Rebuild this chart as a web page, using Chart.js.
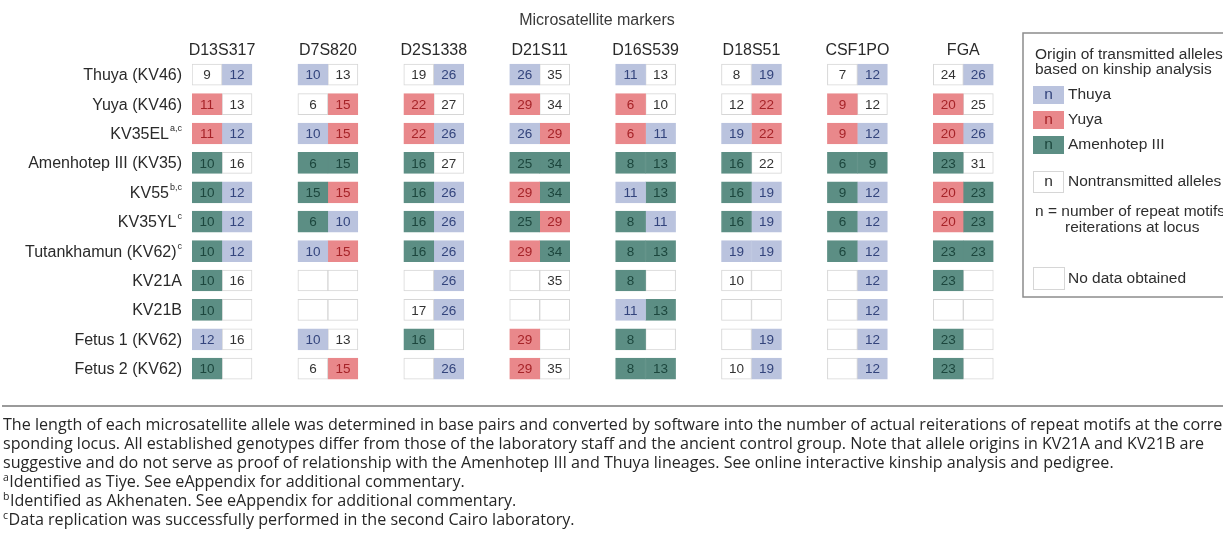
<!DOCTYPE html>
<html><head><meta charset="utf-8">
<script src="https://cdn.jsdelivr.net/npm/chart.js@4.4.1/dist/chart.umd.min.js"></script>
<style>html,body{margin:0;padding:0;background:#fff;overflow:hidden}#wrap{position:relative;width:1223px;height:534px}</style>
</head><body><div id="wrap"><canvas id="c" width="1223" height="534"></canvas></div>
<script>
// ---------- data ----------
const markers = ['D13S317','D7S820','D2S1338','D21S11','D16S539','D18S51','CSF1PO','FGA'];
const rowNames = ['Thuya (KV46)','Yuya (KV46)','KV35EL','Amenhotep III (KV35)','KV55','KV35YL','Tutankhamun (KV62)','KV21A','KV21B','Fetus 1 (KV62)','Fetus 2 (KV62)'];
const rowSups = ['','','a,c','','b,c','c','c','','','',''];
// allele repeat counts, two per marker (null = no data)
const thuyaKV46      = [9,12, 10,13, 19,26, 26,35, 11,13, 8,19, 7,12, 24,26];
const yuyaKV46       = [11,13, 6,15, 22,27, 29,34, 6,10, 12,22, 9,12, 20,25];
const kv35EL         = [11,12, 10,15, 22,26, 26,29, 6,11, 19,22, 9,12, 20,26];
const amenhotepIII   = [10,16, 6,15, 16,27, 25,34, 8,13, 16,22, 6,9, 23,31];
const kv55           = [10,12, 15,15, 16,26, 29,34, 11,13, 16,19, 9,12, 20,23];
const kv35YL         = [10,12, 6,10, 16,26, 25,29, 8,11, 16,19, 6,12, 20,23];
const tutankhamun    = [10,12, 10,15, 16,26, 29,34, 8,13, 19,19, 6,12, 23,23];
const kv21A          = [10,16, null,null, null,26, null,35, 8,null, 10,null, null,12, 23,null];
const kv21B          = [10,null, null,null, 17,26, null,null, 11,13, null,null, null,12, null,null];
const fetus1         = [12,16, 10,13, 16,null, 29,null, 8,null, null,19, null,12, 23,null];
const fetus2         = [10,null, 6,15, null,26, 29,35, 8,13, 10,19, null,12, 23,null];
// allele origin: T = Thuya, Y = Yuya, A = Amenhotep III, N = nontransmitted, - = no data
const thuyaKV46Src    = 'NT TN NT TN TN NT NT NT';
const yuyaKV46Src     = 'YN NY YN YN YN NY YN YN';
const kv35ELSrc       = 'YT TY YT TY YT TY YT YT';
const amenhotepIIISrc = 'AN AA AN AA AA AN AA AN';
const kv55Src         = 'AT AY AT YA TA AT AT YA';
const kv35YLSrc       = 'AT AT AT AY AT AT AT YA';
const tutankhamunSrc  = 'AT TY AT YA AA TT AT AA';
const kv21ASrc        = 'AN -- -T -N A- N- -T A-';
const kv21BSrc        = 'A- -- NT -- TA -- -T --';
const fetus1Src       = 'TN TN A- Y- A- -T -T A-';
const fetus2Src       = 'A- NY -T YN AA NT -T A-';

const rowValues = [thuyaKV46,yuyaKV46,kv35EL,amenhotepIII,kv55,kv35YL,tutankhamun,kv21A,kv21B,fetus1,fetus2];
const rowSources = [thuyaKV46Src,yuyaKV46Src,kv35ELSrc,amenhotepIIISrc,kv55Src,kv35YLSrc,tutankhamunSrc,kv21ASrc,kv21BSrc,fetus1Src,fetus2Src];

const footLines = [
 'The length of each microsatellite allele was determined in base pairs and converted by software into the number of actual reiterations of repeat motifs at the corre-',
 'sponding locus. All established genotypes differ from those of the laboratory staff and the ancient control group. Note that allele origins in KV21A and KV21B are',
 'suggestive and do not serve as proof of relationship with the Amenhotep III and Thuya lineages. See online interactive kinship analysis and pedigree.'
];
const footNotes = [['a','Identified as Tiye. See eAppendix for additional commentary.'],['b','Identified as Akhenaten. See eAppendix for additional commentary.'],['c','Data replication was successfully performed in the second Cairo laboratory.']];

// ---------- styles ----------
const FONT = '"Liberation Sans", Arial, Helvetica, sans-serif';
const FOOTFONT = '"Open Sans", "Noto Sans", sans-serif';
const FILL = {T:'#bac3de', Y:'#e9888b', A:'#5c8e84', N:'#ffffff', '-':'#ffffff'};
const EDGE = {T:'#bac3de', Y:'#e9888b', A:'#5c8e84', N:'#d6d6d6', '-':'#d6d6d6'};
const INK  = {T:'#33447c', Y:'#a62328', A:'#1c463d', N:'#333333', '-':'#333333'};
const PAIR_STEP = 3.53;

const datasets = [];
markers.forEach((mk, m) => {
  for (let a = 0; a < 2; a++) {
    const start = m * PAIR_STEP + a;
    const src = rowSources.map(s => s.split(' ')[m][a]);
    datasets.push({
      label: mk + ' allele ' + (a + 1),
      data: rowNames.map(() => [start, start + 1]),
      alleleValues: rowValues.map(v => v[m * 2 + a]),
      alleleSrc: src,
      backgroundColor: src.map(s => FILL[s]),
      borderColor: src.map(s => EDGE[s]),
      borderWidth: 1, borderSkipped: false, grouped: false, barThickness: 21
    });
  }
});

const cellText = {
  id: 'cellText',
  afterDatasetsDraw(chart) {
    const ctx = chart.ctx;
    ctx.save();
    ctx.font = '13.5px ' + FONT; ctx.textAlign = 'center'; ctx.textBaseline = 'middle';
    chart.data.datasets.forEach((ds, di) => {
      chart.getDatasetMeta(di).data.forEach((el, i) => {
        const v = ds.alleleValues[i];
        if (v == null) return;
        const p = el.getProps(['x', 'y', 'base'], true);
        ctx.fillStyle = INK[ds.alleleSrc[i]];
        ctx.fillText(String(v), (p.x + p.base) / 2, p.y + 1);
      });
    });
    ctx.restore();
  }
};

const rowLabels = {
  id: 'rowLabels',
  afterDraw(chart) {
    const ctx = chart.ctx, ys = chart.scales.y;
    const right = chart.chartArea.left - 10;
    ctx.save(); ctx.textBaseline = 'middle'; ctx.fillStyle = '#2a2a2a';
    rowNames.forEach((name, i) => {
      const y = ys.getPixelForValue(i);
      ctx.font = '9px ' + FONT;
      const sw = rowSups[i] ? ctx.measureText(rowSups[i]).width + 1 : 0;
      if (rowSups[i]) { ctx.textAlign = 'right'; ctx.fillText(rowSups[i], right, y - 5); }
      ctx.font = '16px ' + FONT; ctx.textAlign = 'right';
      ctx.fillText(name, right - sw, y + 1);
    });
    ctx.restore();
  }
};

const legendBox = {
  id: 'legendBox',
  afterDraw(chart) {
    const ctx = chart.ctx;
    ctx.save();
    ctx.strokeStyle = '#8c8c8c'; ctx.lineWidth = 1.5;
    ctx.strokeRect(1023, 33, 260, 264);
    ctx.textBaseline = 'middle'; ctx.fillStyle = '#2e2e2e';
    ctx.font = '15.5px ' + FONT; ctx.textAlign = 'left';
    ctx.fillText('Origin of transmitted alleles', 1035, 55);
    ctx.fillText('based on kinship analysis', 1035, 70);
    const sw = [['T','Thuya',95],['Y','Yuya',120],['A','Amenhotep III',145]];
    sw.forEach(([k, t, y]) => {
      ctx.fillStyle = FILL[k]; ctx.fillRect(1033, y - 9, 31, 18);
      ctx.fillStyle = INK[k]; ctx.textAlign = 'center'; ctx.fillText('n', 1048.5, y);
      ctx.fillStyle = '#2e2e2e'; ctx.textAlign = 'left'; ctx.fillText(t, 1068, y);
    });
    ctx.strokeStyle = '#d6d6d6'; ctx.lineWidth = 1;
    ctx.strokeRect(1033.5, 171.5, 30, 21);
    ctx.textAlign = 'center'; ctx.fillText('n', 1048.5, 182);
    ctx.textAlign = 'left'; ctx.fillText('Nontransmitted alleles', 1068, 182);
    ctx.fillText('n = number of repeat motifs', 1035, 212);
    ctx.fillText('reiterations at locus', 1065, 228);
    ctx.strokeRect(1033.5, 267.5, 31, 22);
    ctx.fillText('No data obtained', 1068, 279);
    ctx.restore();
  }
};

const footnote = {
  id: 'footnote',
  afterDraw(chart) {
    const ctx = chart.ctx;
    ctx.save();
    ctx.strokeStyle = '#9a9a9a'; ctx.lineWidth = 2;
    ctx.beginPath(); ctx.moveTo(2, 406); ctx.lineTo(1223, 406); ctx.stroke();
    ctx.font = '100px ' + FOOTFONT;
    const size = 100 * 1112 / ctx.measureText(footLines[2]).width;
    ctx.font = size + 'px ' + FOOTFONT;
    ctx.fillStyle = '#262626'; ctx.textBaseline = 'middle'; ctx.textAlign = 'left';
    const ys = [425, 444, 463, 482, 501, 520];
    footLines.forEach((t, i) => ctx.fillText(t, 3, ys[i]));
    footNotes.forEach(([s, t], i) => {
      ctx.font = (size * 0.65) + 'px ' + FOOTFONT;
      ctx.fillText(s, 3, ys[i + 3] - 4);
      const w = ctx.measureText(s).width;
      ctx.font = size + 'px ' + FOOTFONT;
      ctx.fillText(t, 3 + w + 0.5, ys[i + 3]);
    });
    ctx.restore();
  }
};

new Chart(document.getElementById('c'), {
  type: 'bar',
  data: { labels: rowNames, datasets },
  options: {
    indexAxis: 'y', responsive: false, animation: false,
    layout: { padding: { left: 192, right: 221, top: 0, bottom: 150.6 } },
    plugins: { legend: { display: false }, tooltip: { enabled: false } },
    scales: {
      x: {
        type: 'linear', position: 'top', min: 0, max: 27,
        grid: { display: false, drawTicks: false }, border: { display: false },
        afterBuildTicks: s => { s.ticks = markers.map((_, i) => ({ value: i * PAIR_STEP + 1 })); },
        afterFit: s => { s.height = 60; },
        ticks: { autoSkip: false, maxRotation: 0, padding: 0, color: '#2a2a2a',
                 font: { family: FONT, size: 16 }, callback: (v, i) => markers[i] },
        title: { display: true, text: 'Microsatellite markers', color: '#3a3a3a',
                 padding: { top: 11, bottom: 0 }, font: { family: FONT, size: 16 } }
      },
      y: { type: 'category', display: false, offset: true }
    }
  },
  plugins: [cellText, rowLabels, legendBox, footnote]
});
</script></body></html>
